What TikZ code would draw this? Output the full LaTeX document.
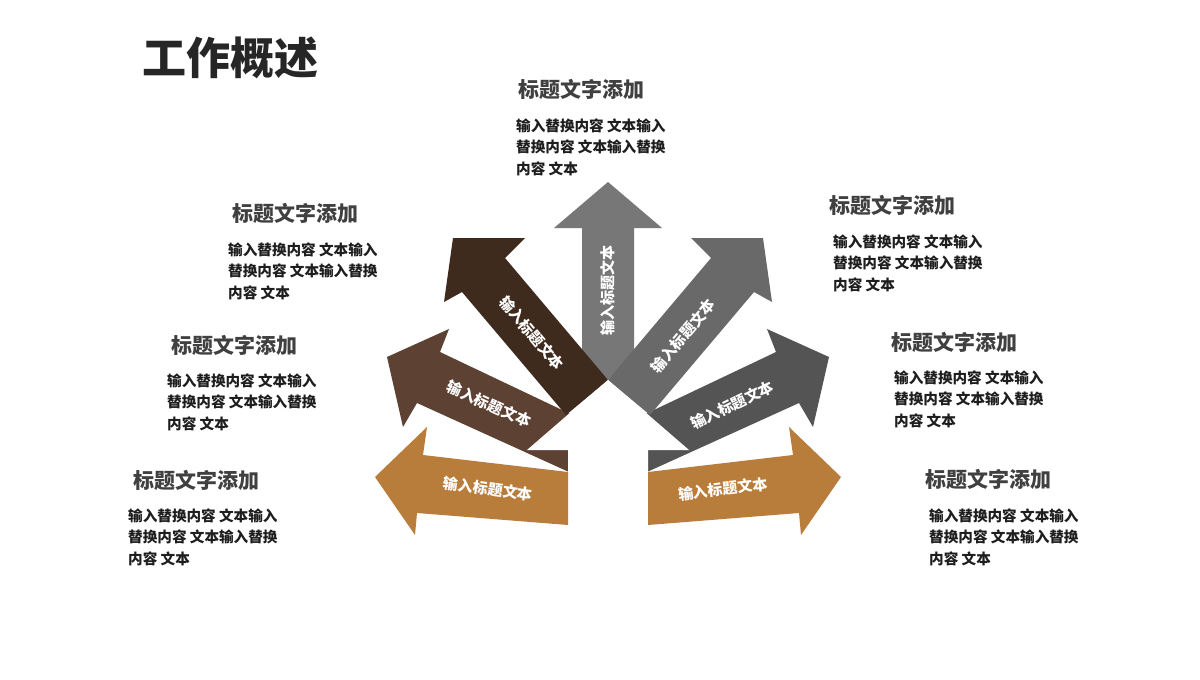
\documentclass[tikz,border=0pt]{standalone}
\usepackage{fontspec}
\setmainfont{Noto Sans CJK SC}
\definecolor{ochre}{HTML}{B97D3B}
\definecolor{tanbrown}{HTML}{5D4233}
\definecolor{darkbrown}{HTML}{3F2B1E}
\definecolor{upgray}{HTML}{777777}
\definecolor{midgray}{HTML}{696969}
\definecolor{deepgray}{HTML}{545454}
\definecolor{titleink}{HTML}{262626}
\definecolor{headink}{HTML}{404040}
\definecolor{bodyink}{HTML}{1E1E1E}
\tikzset{
  lbl/.style={text=white, font=\bfseries\fontsize{15}{17}\selectfont, inner sep=0pt},
  headtxt/.style={anchor=west, text=headink, font=\bfseries\fontsize{21}{24}\selectfont, inner sep=0pt},
  bodytxt/.style={anchor=north west, align=left, text=bodyink, font=\bfseries\fontsize{14.6}{21.5}\selectfont, inner sep=0pt},
}
\begin{document}
\begin{tikzpicture}[x=1pt,y=-1pt]
\useasboundingbox (0,0) rectangle (1200,680);
\fill [white] (0,0) rectangle (1200,680);

% arrows, back to front
\fill [upgray] (608,182) -- (662,228) -- (634,228) -- (634,352) -- (608,380) -- (582,352) -- (582,228) -- (554,228) -- cycle;
\fill [tanbrown] (387,357) -- (449,329) -- (440,352) -- (600,428) -- (580,477) -- (417,403) -- (403,427) -- cycle;
\fill [deepgray] (829,357) -- (767,329) -- (776,352) -- (616,428) -- (636,477) -- (799,403) -- (813,427) -- cycle;
\fill [darkbrown] (453,238) -- (525,238) -- (505,258) -- (608,380) -- (566,415) -- (462,292) -- (444,302) -- cycle;
\fill [midgray] (763,238) -- (691,238) -- (711,258) -- (608,380) -- (650,415) -- (754,292) -- (772,302) -- cycle;
% white cut-out under the centre
\fill [white] (608,380) -- (527,450) -- (568,450) -- (568,545) -- (648,545) -- (648,450) -- (689,450) -- cycle;
\fill [ochre] (375,477) -- (427,427) -- (423,455) -- (568,472) -- (568,525) -- (417,513) -- (415,535) -- cycle;
\fill [ochre] (841,477) -- (789,427) -- (793,455) -- (648,472) -- (648,525) -- (799,513) -- (801,535) -- cycle;

% arrow labels
\node [lbl, rotate=90] (lup) at (608,290) {输入标题文本};
\node [lbl, rotate=-50] (lnw) at (532,333) {输入标题文本};
\node [lbl, rotate=50] (lne) at (683,336) {输入标题文本};
\node [lbl, rotate=-24] (lw) at (489,404) {输入标题文本};
\node [lbl, rotate=26] (le) at (732,405) {输入标题文本};
\node [lbl, rotate=-8] (lsw) at (488,489) {输入标题文本};
\node [lbl, rotate=7] (lse) at (723,489) {输入标题文本};

% title
\node [anchor=west, text=titleink, font=\bfseries\fontsize{44}{48}\selectfont, inner sep=0pt] (title) at (142,58) {工作概述};

% text blocks
\node [headtxt] (h1) at (518,89) {标题文字添加};
\node [bodytxt] (b1) at (516,118.5) {输入替换内容 文本输入\\替换内容 文本输入替换\\内容 文本};

\node [headtxt] (h2) at (232,213) {标题文字添加};
\node [bodytxt] (b2) at (228,242.5) {输入替换内容 文本输入\\替换内容 文本输入替换\\内容 文本};

\node [headtxt] (h3) at (171,345) {标题文字添加};
\node [bodytxt] (b3) at (167,373.5) {输入替换内容 文本输入\\替换内容 文本输入替换\\内容 文本};

\node [headtxt] (h4) at (133,480) {标题文字添加};
\node [bodytxt] (b4) at (128,508.5) {输入替换内容 文本输入\\替换内容 文本输入替换\\内容 文本};

\node [headtxt] (h5) at (829,205) {标题文字添加};
\node [bodytxt] (b5) at (833,234.5) {输入替换内容 文本输入\\替换内容 文本输入替换\\内容 文本};

\node [headtxt] (h6) at (891,342) {标题文字添加};
\node [bodytxt] (b6) at (894,370.5) {输入替换内容 文本输入\\替换内容 文本输入替换\\内容 文本};

\node [headtxt] (h7) at (925,479) {标题文字添加};
\node [bodytxt] (b7) at (929,508.5) {输入替换内容 文本输入\\替换内容 文本输入替换\\内容 文本};
\end{tikzpicture}
\end{document}
